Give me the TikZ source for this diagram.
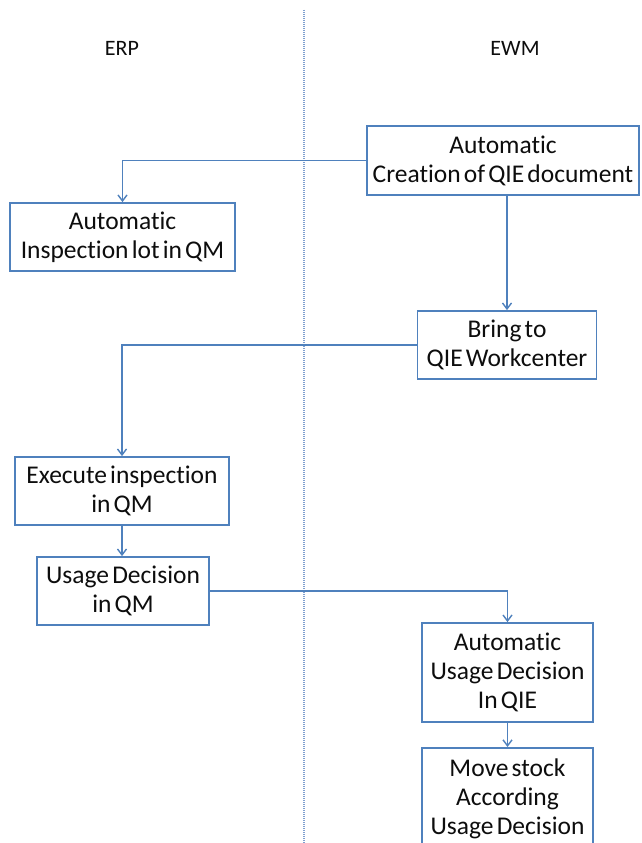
\documentclass[tikz,border=0pt]{standalone}
\usepackage{fontspec}
\setmainfont{Carlito}[Ligatures={NoCommon}, WordSpace=0.55]
\usetikzlibrary{arrows.meta}
\definecolor{boxblue}{HTML}{4F81BD}
\definecolor{dotblue}{HTML}{7F9FCF}
\definecolor{txt}{HTML}{0D0D0D}
\tikzset{
  flowbox/.style={draw=boxblue, line width=1.8pt, fill=white, align=center,
    inner sep=0pt, text=txt, font=\fontsize{25.5}{29}\selectfont},
  flowarrow/.style={draw=boxblue, line width=1.8pt,
    -{Straight Barb[length=6pt,width=9pt,line width=1.4pt]}},
  lanelabel/.style={text=txt, font=\fontsize{22}{24}\selectfont},
  laneline/.style={draw=dotblue, line width=1.6pt, dash pattern=on 1pt off 1pt}
}
\begin{document}
\begin{tikzpicture}[x=1pt, y=-1pt]
\useasboundingbox (0,0) rectangle (642,843);
\fill[white] (0,0) rectangle (642,843);

\coordinate (ltop) at (304,10);
\coordinate (lbot) at (304,843);
\draw[laneline] (ltop) -- (lbot);

\node[lanelabel] (erp) at (122,48) {ERP};
\node[lanelabel] (ewm) at (515,48) {EWM};

\node[flowbox, minimum width=272pt, minimum height=69pt] (b1) at (503,160.5)
  {Automatic\\Creation of QIE document};
\node[flowbox, minimum width=225pt, minimum height=68pt] (b2) at (122.5,237)
  {Automatic\\Inspection lot in QM};
\node[flowbox, minimum width=179pt, minimum height=68pt] (b3) at (507,345)
  {Bring to\\QIE Workcenter};
\node[flowbox, minimum width=214pt, minimum height=68pt] (b4) at (122,491)
  {Execute inspection\\in QM};
\node[flowbox, minimum width=172pt, minimum height=68pt] (b5) at (123,591)
  {Usage Decision\\in QM};
\node[flowbox, minimum width=171pt, minimum height=99pt] (b6) at (507.5,672.5)
  {Automatic\\Usage Decision\\In QIE};
\node[flowbox, minimum width=171pt, minimum height=101pt, anchor=north] (b7) at (507.5,747)
  {Move stock\\According\\Usage Decision};

\draw[flowarrow] (b1.west) -| (b2.north);
\draw[flowarrow] (b1.south -| b3.north) -- (b3.north);
\draw[flowarrow] (b3.west) -| (b4.north);
\draw[flowarrow] (b4.south) -- (b5.north -| b4.south);
\draw[flowarrow] (b5.east) -| (b6.north);
\draw[flowarrow] (b6.south) -- (b7.north);
\end{tikzpicture}
\end{document}
